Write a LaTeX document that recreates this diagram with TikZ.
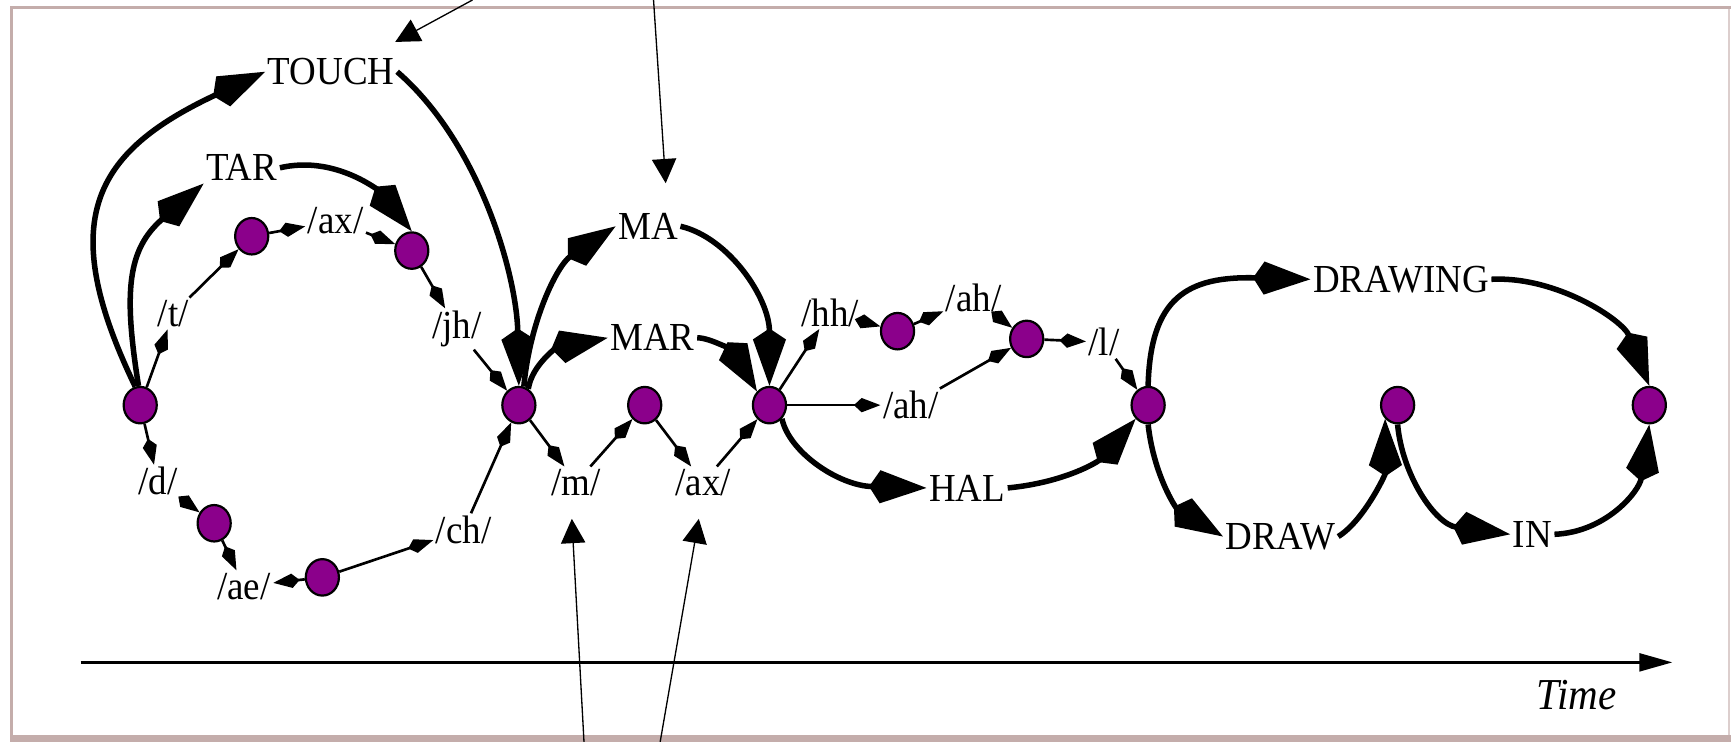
\documentclass[tikz,border=0pt]{standalone}
\usepackage{fontspec}
\setmainfont{Liberation Serif}[FakeStretch=0.93]
\usetikzlibrary{arrows.meta,shapes.geometric}

\definecolor{framecol}{RGB}{196,173,171}
\definecolor{statefill}{RGB}{139,0,139}

\tikzset{
  state/.style={ellipse, draw=black, line width=1pt, fill=statefill,
    minimum width=15pt, minimum height=16.5pt, inner sep=0pt},
  word/.style={inner sep=1pt},
  phone/.style={inner sep=1pt},
  wordarc/.style={line width=2.5pt,
    -{Kite[length=26pt,width=15pt,inset=5pt]}},
  phonearc/.style={line width=1.2pt,
    -{Kite[length=12pt,width=6.5pt,inset=3.5pt]}},
  pointer/.style={line width=0.6pt, -{Triangle[length=11pt,width=11pt]}},
  timeaxis/.style={line width=1.5pt, -{Triangle[length=15pt,width=8pt]}}
}

\begin{document}
\begin{tikzpicture}[x=0.5pt,y=-0.5pt,font=\fontsize{18}{20}\selectfont]
\useasboundingbox (0,0) rectangle (1568,672);

% frame
\fill[framecol] (9,5.4) rectangle (1568,8.2);
\fill[framecol] (9,5.4) rectangle (11.5,672);
\fill[framecol] (9,665.8) rectangle (1568,672);
\fill[framecol!60] (1565.6,8.2) rectangle (1566.8,665.8);

% lattice states
\node[state] (n1)  at (127,367) {};
\node[state] (n2)  at (228,214) {};
\node[state] (n3)  at (373,227) {};
\node[state] (n4)  at (470,367) {};
\node[state] (n5)  at (584,367) {};
\node[state] (n6)  at (697,367) {};
\node[state] (n7)  at (813,300) {};
\node[state] (n8)  at (930,307) {};
\node[state] (n9)  at (1040,367) {};
\node[state] (n10) at (1266,367) {};
\node[state] (n11) at (1494,367) {};
\node[state] (n12) at (194,474) {};
\node[state] (n13) at (292,523) {};

% word labels
\node[word] (touch)   at (300,65)   {TOUCH};
\node[word] (tar)     at (219,152)  {TAR};
\node[word] (ma)      at (587,205)  {MA};
\node[word] (mar)     at (591,306)  {MAR};
\node[word] (hal)     at (876,442)  {HAL};
\node[word] (drawing) at (1269,253) {DRAWING};
\node[word] (draw)    at (1160,486) {DRAW};
\node[word] (in)      at (1388,484) {IN};

% phone labels
\node[phone] (pt)   at (157,284) {/t/};
\node[phone] (pax1) at (304,200) {/ax/};
\node[phone] (pjh)  at (414,298) {/jh/};
\node[phone] (pd)   at (143,436) {/d/};
\node[phone] (pae)  at (221,531) {/ae/};
\node[phone] (pch)  at (420,480) {/ch/};
\node[phone] (pm)   at (522,437) {/m/};
\node[phone] (pax2) at (637,437) {/ax/};
\node[phone] (phh)  at (752,283) {/hh/};
\node[phone] (pah1) at (882,270) {/ah/};
\node[phone] (pl)   at (1000,310) {/l/};
\node[phone] (pah2) at (825,367) {/ah/};

% word arcs
\draw[wordarc] (n1.105) .. controls (50,200) and (84,138) .. (touch.west);
\draw[wordarc] (touch.east) .. controls (435,130) and (468,250) .. (n4.north);
\draw[wordarc] (n1.95) .. controls (112,265) and (115,226) .. (tar.south west);
\draw[wordarc] (tar.east) .. controls (305,140) and (345,175) .. (n3.north);
\draw[wordarc] (n4.75) .. controls (480,290) and (505,240) .. (ma.west);
\draw[wordarc] (ma.east) .. controls (660,215) and (697,270) .. (n6.north);
\draw[wordarc] (n4.60) .. controls (482,330) and (505,315) .. (mar.west);
\draw[wordarc] (mar.east) .. controls (645,306) and (665,320) .. (n6.north west);
\draw[wordarc] (n6.south east) .. controls (715,410) and (760,440) .. (hal.west);
\draw[wordarc] (hal.east) .. controls (965,437) and (995,418) .. (n9.south west);
\draw[wordarc] (n9.north) .. controls (1042,270) and (1075,250) .. (drawing.west);
\draw[wordarc] (drawing.east) .. controls (1410,250) and (1470,290) .. (n11.north);
\draw[wordarc] (n9.south) .. controls (1045,430) and (1065,460) .. (draw.west);
\draw[wordarc] (draw.east) .. controls (1235,472) and (1255,430) .. (n10.south west);
\draw[wordarc] (n10.south) .. controls (1270,430) and (1300,475) .. (in.west);
\draw[wordarc] (in.east) .. controls (1455,482) and (1485,445) .. (n11.south);

% phone arcs
\draw[phonearc] (n1) -- (pt);
\draw[phonearc] (pt) -- (n2);
\draw[phonearc] (n2) -- (pax1);
\draw[phonearc] (pax1) -- (n3);
\draw[phonearc] (n3) -- (pjh);
\draw[phonearc] (pjh) -- (n4);
\draw[phonearc] (n1) -- (pd);
\draw[phonearc] (pd) -- (n12);
\draw[phonearc] (n12) -- (pae);
\draw[phonearc] (n13) -- (pae);
\draw[phonearc] (n13) -- (pch);
\draw[phonearc] (pch) -- (n4);
\draw[phonearc] (n4) -- (pm);
\draw[phonearc] (pm) -- (n5);
\draw[phonearc] (n5) -- (pax2);
\draw[phonearc] (pax2) -- (n6);
\draw[phonearc] (n6) -- (phh);
\draw[phonearc] (phh) -- (n7);
\draw[phonearc] (n7) -- (pah1);
\draw[phonearc] (pah1) -- (n8);
\draw[phonearc] (n8) -- (pl);
\draw[phonearc] (pl) -- (n9);
\draw[phonearc] (n6) -- (pah2);
\draw[phonearc] (pah2) -- (n8);

% time axis
\coordinate (t0) at (73,600);
\coordinate (t1) at (1515,600);
\draw[timeaxis] (t0) -- (t1);
\node[inner sep=0pt] (time) at (1428,630) {\fontsize{20}{22}\selectfont\itshape Time};

% pointers from outside the frame
\coordinate (a1) at (428,0);   \coordinate (b1) at (358,38);
\coordinate (a2) at (592,0);   \coordinate (b2) at (603,166);
\coordinate (a3) at (529,672); \coordinate (b3) at (518,470);
\coordinate (a4) at (598,672); \coordinate (b4) at (633,470);
\draw[pointer] (a1) -- (b1);
\draw[pointer] (a2) -- (b2);
\draw[pointer] (a3) -- (b3);
\draw[pointer] (a4) -- (b4);
\end{tikzpicture}
\end{document}
